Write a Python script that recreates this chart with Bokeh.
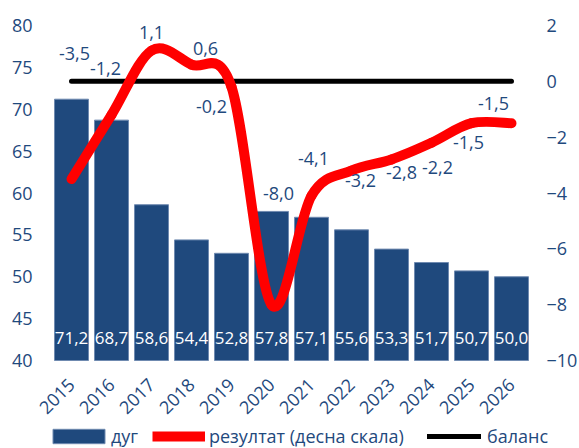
import numpy as np
from math import pi
from bokeh.plotting import figure
from bokeh.models import (Range1d, LinearAxis, FixedTicker,
                          Legend, LegendItem, ColumnDataSource)
from bokeh.embed import file_html
from bokeh.resources import INLINE
from bokeh.core.properties import value

# ---- data ----
years = ["2015", "2016", "2017", "2018", "2019", "2020",
         "2021", "2022", "2023", "2024", "2025", "2026"]
debt = [71.2, 68.7, 58.6, 54.4, 52.8, 57.8, 57.1, 55.6, 53.3, 51.7, 50.7, 50.0]
result = [-3.5, -1.2, 1.1, 0.6, -0.2, -8.0, -4.1, -3.2, -2.8, -2.2, -1.5, -1.5]
balance = [0.0] * 12
left_ticks = [40, 45, 50, 55, 60, 65, 70, 75, 80]
right_ticks = [-10, -8, -6, -4, -2, 0, 2]

# label placement (screen pixel offsets, style only)
res_dx = [3, -6, 0, 14, -20, 7, 2, 9, 10, 6, -3, -18]
res_dy = [-126, -46, -18, -16, 20, -111, -37, 10, 13, 25, 19, -20]

TXT = "#1F497D"
BAR = "#1F497D"
FONT = "Open Sans"
FS = "18px"

# page geometry (pixels): plotting band inside the canvas
W, H = 579, 448
BAND_L, BAND_R, BAND_T, BAND_B = 51, 531, 25, 360

def fmt(v):
    return f"{v:.1f}".replace(".", ",")

n = len(years)
xs = np.arange(n, dtype=float)

lo, hi = left_ticks[0], left_ticks[-1]
rlo, rhi = right_ticks[0], right_ticks[-1]

# ranges extended so the whole canvas is the frame and the band maps to data
xpx = (BAND_R - BAND_L) / n
xr0 = -0.5 - BAND_L / xpx
xr1 = n - 0.5 + (W - BAND_R) / xpx
ypx = (BAND_B - BAND_T) / (hi - lo)
rpx = (BAND_B - BAND_T) / (rhi - rlo)

p = figure(width=W, height=H,
           x_range=Range1d(xr0, xr1),
           y_range=Range1d(lo - (H - BAND_B) / ypx, hi + BAND_T / ypx),
           output_backend="svg", toolbar_location=None,
           min_border=0)
p.extra_y_ranges = {"right": Range1d(rlo - (H - BAND_B) / rpx,
                                     rhi + BAND_T / rpx)}
p.outline_line_color = None
p.grid.visible = False
p.background_fill_color = "white"
p.border_fill_color = "white"

# bars
bars = p.vbar(x=xs, top=debt, bottom=lo, width=0.85,
              fill_color=BAR, line_color="#6F8AB0", line_width=1)

# bar labels
p.text(x=xs, y=[lo] * n, text=[fmt(v) for v in debt],
       text_align="center", text_baseline="middle", y_offset=-23,
       text_color="white", text_font=value(FONT), text_font_size="17px")

# balance line
bal = p.line(x=xs, y=balance, y_range_name="right", line_color="black",
             line_width=5, line_cap="round")

# smoothed result line (Bezier through data, Excel-style control points)
yv = np.array(result)
xp = np.concatenate([[xs[0]], xs, [xs[-1]]])
yp = np.concatenate([[yv[0]], yv, [yv[-1]]])
i = np.arange(n - 1)
src = ColumnDataSource(dict(
    x0=xs[:-1], y0=yv[:-1], x1=xs[1:], y1=yv[1:],
    cx0=xp[i + 1] + (xp[i + 2] - xp[i]) / 6,
    cy0=yp[i + 1] + (yp[i + 2] - yp[i]) / 6,
    cx1=xp[i + 2] - (xp[i + 3] - xp[i + 1]) / 6,
    cy1=yp[i + 2] - (yp[i + 3] - yp[i + 1]) / 6,
))
p.bezier(x0="x0", y0="y0", x1="x1", y1="y1", cx0="cx0", cy0="cy0",
         cx1="cx1", cy1="cy1", source=src, y_range_name="right",
         line_color="#FF0000", line_width=10, line_cap="round")
res_leg = p.line(x=[xs[0]], y=[np.nan], line_color="#FF0000", line_width=10,
                 y_range_name="right")

# result labels
lsrc = ColumnDataSource(dict(x=xs, y=result, t=[fmt(v) for v in result],
                             dx=res_dx, dy=res_dy))
p.text(x="x", y="y", text="t", x_offset="dx", y_offset="dy", source=lsrc,
       y_range_name="right", text_align="center", text_baseline="middle",
       text_color=TXT, text_font=value(FONT), text_font_size=FS)

# axes
def style_axis(ax):
    ax.axis_line_color = None
    ax.major_tick_line_color = None
    ax.minor_tick_line_color = None
    ax.major_tick_out = 0
    ax.major_tick_in = 0
    ax.major_label_text_color = TXT
    ax.major_label_text_font = FONT
    ax.major_label_text_font_size = FS

p.yaxis.ticker = FixedTicker(ticks=left_ticks)
style_axis(p.yaxis[0])
p.yaxis.fixed_location = -0.5
p.yaxis.major_label_standoff = 19

rax = LinearAxis(y_range_name="right", ticker=FixedTicker(ticks=right_ticks))
style_axis(rax)
rax.fixed_location = n - 0.5
rax.major_label_standoff = 15
p.add_layout(rax, "right")

p.xaxis.ticker = FixedTicker(ticks=list(range(n)))
p.xaxis.major_label_overrides = {k: y for k, y in enumerate(years)}
style_axis(p.xaxis[0])
p.xaxis.fixed_location = lo
p.xaxis.major_label_orientation = pi / 4
p.xaxis.major_label_standoff = 21

# legends (one per entry so each sits where the reference shows it)
def mk_legend(label, r, vx, gw, gh, standoff):
    lg = Legend(items=[LegendItem(label=label, renderers=[r])],
                location=(vx, 0), orientation="horizontal",
                padding=0, margin=0, spacing=0,
                border_line_color=None, background_fill_alpha=0,
                glyph_width=gw, glyph_height=gh, label_standoff=standoff,
                label_text_color=TXT, label_text_font=FONT,
                label_text_font_size=FS)
    p.add_layout(lg, "center")

mk_legend("дуг", bars, 46, 65, 18, 0)
mk_legend("резултат (десна скала)", res_leg, 152, 53, 24, 4)
mk_legend("баланс", bal, 427, 54, 24, 6)

open("out.html", "w").write(file_html(p, INLINE))
